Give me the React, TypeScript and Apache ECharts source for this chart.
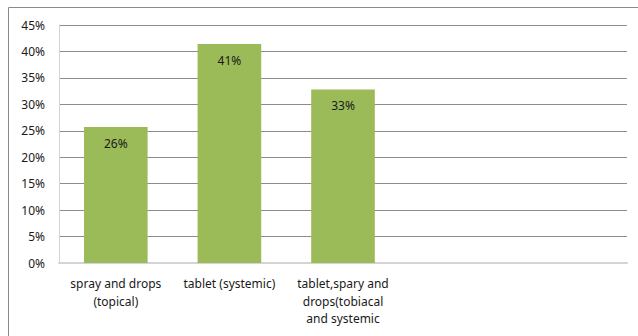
import React, { useEffect, useRef } from "react";
import * as echarts from "echarts";

const categories = [
  "spray and drops\n(topical)",
  "tablet (systemic)",
  "tablet,spary and\ndrops(tobiacal\nand systemic",
  "",
  "",
];
const values = [25.7, 41.4, 32.8, null, null];
const yTicks = [0, 5, 10, 15, 20, 25, 30, 35, 40, 45];

export default function App() {
  const ref = useRef<HTMLDivElement>(null);
  useEffect(() => {
    const chart = echarts.init(ref.current!, null, { renderer: "svg" });
    chart.setOption({
      animation: false,
      backgroundColor: "#ffffff",
      textStyle: { fontFamily: "Noto Sans" },
      grid: { left: 59, right: 11, top: 25, bottom: 73 },
      graphic: [
        {
          type: "rect",
          shape: { x: 8.5, y: 7.5, width: 640, height: 340 },
          style: { fill: "none", stroke: "#8a8a8a", lineWidth: 1 },
          silent: true,
        },
      ],
      xAxis: {
        type: "category",
        data: categories,
        axisLine: { show: true, lineStyle: { color: "#d4d4d4", width: 2 } },
        axisTick: { show: false },
        axisLabel: {
          color: "#1a1a1a",
          fontSize: 12,
          lineHeight: 17.5,
          margin: 12,
          interval: 0,
        },
      },
      yAxis: {
        type: "value",
        min: 0,
        max: 45,
        interval: 5,
        axisLine: { show: true, lineStyle: { color: "#d4d4d4", width: 1 } },
        axisTick: { show: false },
        axisLabel: {
          color: "#1a1a1a",
          fontSize: 12,
          margin: 14,
          formatter: (v: number) => (yTicks.includes(v) ? v + "%" : ""),
        },
        splitLine: { lineStyle: { color: "#8c8c8c", width: 1 } },
      },
      series: [
        {
          type: "bar",
          data: values,
          barWidth: "56%",
          itemStyle: { color: "#9bbb59" },
          label: {
            show: true,
            position: "insideTop",
            distance: 10,
            color: "#1a1a1a",
            fontSize: 12,
            formatter: (p: any) => Math.round(p.value) + "%",
          },
        },
      ],
    });
    return () => chart.dispose();
  }, []);
  return (
    <div
      ref={ref}
      style={{ position: "absolute", left: 0, top: 0, width: 638, height: 336 }}
    />
  );
}
